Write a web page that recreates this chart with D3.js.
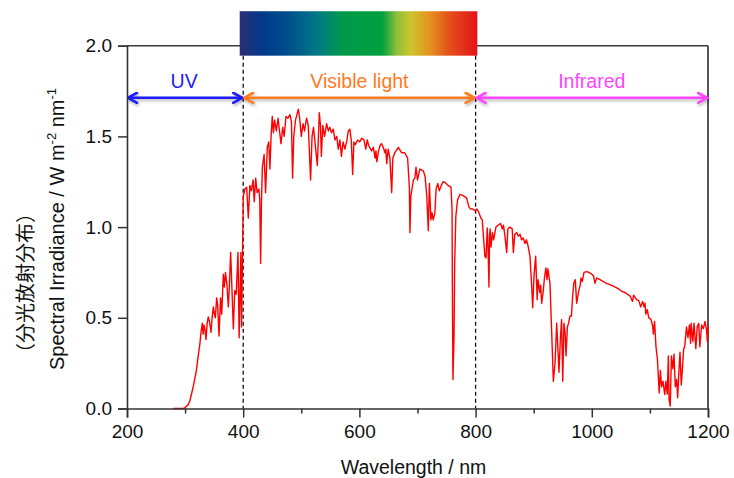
<!DOCTYPE html>
<html>
<head>
<meta charset="utf-8">
<script src="https://cdn.jsdelivr.net/npm/d3@7"></script>
<style>
  html, body { margin: 0; padding: 0; background: #fff; }
  svg { display: block; font-family: "Liberation Sans", Arial, sans-serif; }
</style>
</head>
<body>
<svg id="chart" width="734" height="478"></svg>
<script>
// ---------------- data ----------------
const wavelength = [
  280, 290, 297, 300, 305, 308, 311, 314, 317, 319, 321, 323, 325.6, 327, 329.6, 331, 332.5, 334, 336, 338,
  340, 342, 344.6, 346.5, 348.6, 350.5, 352, 354.4, 356, 358.4, 361, 363, 365.8, 367.5, 369.5, 372, 374.4, 376.5, 378.4, 380.5,
  383, 385.5, 388, 391, 393, 396, 397.2, 399, 400.2, 403, 406, 408.8, 411.5, 414, 417, 419, 421.5, 424, 427, 428.5,
  430, 431.5, 433, 436, 438.5, 441.5, 444, 446, 448, 450, 452, 454, 457, 460, 462.5, 465, 468, 470.5, 473.6, 477,
  480.5, 483, 485, 487, 490, 495, 497.5, 500, 503, 505.5, 509, 512, 516, 518.5, 521, 523.5, 527.6, 531, 533, 534.5,
  537, 540, 543.6, 546.5, 549, 552, 555, 558, 561, 563.7, 566.5, 569, 572, 575, 578, 581, 583.5, 586, 588.4, 590.5,
  593, 597, 600.5, 604, 608, 611, 613.5, 616, 621, 624, 627, 628.5, 630, 633, 635.5, 638, 641, 644, 645.5, 647,
  649.5, 652.5, 655.6, 657.5, 661, 667, 672.5, 678, 683, 686, 687, 688.5, 691, 693, 695.5, 697.4, 700, 704, 710, 713,
  716, 718.6, 720.5, 723, 725, 727, 730, 732, 735, 737.5, 741, 744, 748, 752.5, 757.6, 759.5, 760, 761, 762.8, 764,
  766, 769, 773, 778, 784.6, 788.6, 791.5, 795, 799, 802, 805, 809, 811.5, 813, 816, 818, 820, 821.5, 823, 824,
  825, 826.5, 829, 831, 835, 838.5, 843, 846, 848, 850.5, 853.5, 855.5, 859, 863, 865, 867.5, 870.7, 873.5, 876.5, 879,
  882, 885, 887.5, 890, 893.6, 896.6, 898.3, 900.5, 903.4, 906, 907.5, 910.5, 912, 913.7, 916.5, 918.5, 921, 923, 924.5, 928,
  931, 933.8, 936.7, 939.6, 941.5, 943.5, 946, 948, 950, 952, 954, 955.6, 958, 960, 962.5, 965, 967, 969, 971.5, 974,
  977, 980, 981.4, 983.5, 986.6, 991, 995, 1000, 1003, 1005.5, 1008.4, 1014, 1019.8, 1025, 1031, 1037, 1043, 1048, 1052, 1057,
  1061, 1066, 1070, 1072, 1077, 1081, 1084, 1087.5, 1090, 1091.6, 1093, 1095.5, 1098, 1102, 1105, 1106, 1108, 1110.5, 1113, 1116,
  1118, 1120, 1122.5, 1125.5, 1127.5, 1130, 1131.7, 1133, 1135, 1137, 1139.5, 1141.5, 1143.7, 1146, 1147.8, 1149.5, 1151.8, 1154, 1156, 1158,
  1160, 1163, 1165.5, 1168, 1170, 1171, 1174, 1176, 1179, 1181.5, 1184, 1186, 1189, 1192, 1194.8, 1197.5, 1199, 1200
];
const irradiance = [
  0, 0, 0, 0.005, 0.02, 0.04, 0.08, 0.12, 0.17, 0.2, 0.25, 0.30, 0.36, 0.41, 0.47, 0.41, 0.46, 0.44, 0.38, 0.47,
  0.505, 0.48, 0.42, 0.50, 0.56, 0.52, 0.50, 0.61, 0.57, 0.40, 0.61, 0.52, 0.74, 0.67, 0.75, 0.68, 0.56, 0.70, 0.86, 0.67,
  0.44, 0.65, 0.63, 0.86, 0.39, 0.86, 0.45, 0.90, 1.17, 1.21, 1.22, 1.05, 1.23, 1.20, 1.26, 1.14, 1.27, 1.19, 1.21, 1.15,
  0.80, 1.15, 1.33, 1.40, 1.19, 1.44, 1.47, 1.32, 1.50, 1.61, 1.52, 1.59, 1.53, 1.60, 1.53, 1.46, 1.55, 1.50, 1.61, 1.60,
  1.62, 1.58, 1.27, 1.50, 1.59, 1.65, 1.59, 1.50, 1.57, 1.53, 1.60, 1.56, 1.26, 1.50, 1.55, 1.47, 1.34, 1.63, 1.56, 1.39,
  1.56, 1.50, 1.57, 1.53, 1.55, 1.52, 1.54, 1.48, 1.50, 1.43, 1.48, 1.39, 1.47, 1.43, 1.47, 1.53, 1.54, 1.48, 1.29, 1.47,
  1.455, 1.48, 1.47, 1.49, 1.48, 1.43, 1.48, 1.45, 1.42, 1.44, 1.38, 1.42, 1.36, 1.42, 1.45, 1.46, 1.44, 1.41, 1.43, 1.35,
  1.43, 1.38, 1.19, 1.38, 1.41, 1.44, 1.41, 1.41, 1.38, 1.22, 0.97, 1.17, 1.22, 1.26, 1.27, 1.33, 1.26, 1.32, 1.31, 1.28,
  1.17, 0.98, 1.24, 1.04, 1.08, 1.04, 1.08, 1.21, 1.24, 1.20, 1.23, 1.25, 1.245, 1.23, 1.22, 1.10, 0.69, 0.16, 0.38, 0.80,
  1.06, 1.15, 1.18, 1.175, 1.16, 1.11, 1.10, 1.10, 1.09, 1.10, 1.085, 1.05, 1.04, 0.97, 0.84, 0.83, 0.995, 0.88, 0.67, 0.95,
  0.99, 0.89, 0.97, 0.93, 1.00, 1.01, 1.02, 0.99, 1.01, 0.95, 0.86, 0.99, 1.00, 0.99, 0.86, 0.96, 0.97, 0.95, 0.96, 0.93,
  0.94, 0.91, 0.93, 0.90, 0.84, 0.67, 0.555, 0.73, 0.84, 0.60, 0.71, 0.64, 0.68, 0.58, 0.65, 0.72, 0.775, 0.71, 0.77, 0.69,
  0.417, 0.15, 0.25, 0.47, 0.34, 0.20, 0.39, 0.49, 0.15, 0.47, 0.42, 0.29, 0.45, 0.47, 0.51, 0.51, 0.62, 0.69, 0.71, 0.58,
  0.64, 0.68, 0.72, 0.70, 0.75, 0.755, 0.75, 0.74, 0.73, 0.69, 0.72, 0.71, 0.70, 0.69, 0.683, 0.675, 0.665, 0.655, 0.645, 0.64,
  0.63, 0.62, 0.59, 0.625, 0.60, 0.595, 0.56, 0.59, 0.56, 0.58, 0.52, 0.545, 0.50, 0.49, 0.45, 0.41, 0.48, 0.34, 0.27, 0.086,
  0.21, 0.12, 0.15, 0.077, 0.15, 0.08, 0.29, 0.05, 0.013, 0.29, 0.22, 0.30, 0.12, 0.16, 0.059, 0.18, 0.31, 0.13, 0.22, 0.325,
  0.345, 0.45, 0.39, 0.46, 0.36, 0.47, 0.37, 0.47, 0.33, 0.45, 0.47, 0.34, 0.46, 0.44, 0.48, 0.43, 0.37, 0.46
];

const xTicks = [200, 400, 600, 800, 1000, 1200];
const xMinorTicks = [300, 500, 700, 900, 1100];
const yTicks = [0.0, 0.5, 1.0, 1.5, 2.0];

const bandNames = ["UV", "Visible light", "Infrared"];
const bandStart = [200, 400, 800];
const bandEnd = [400, 800, 1200];
const bandColors = ["#1c1cff", "#ff7a1e", "#ff44ff"];
const boundaryLines = [400, 800];

// visible spectrum bar (nm extent) and its colour stops
const spectrumRange = [394, 803];
const spectrumStops = [0, 0.1, 0.2, 0.33, 0.43, 0.6, 0.66, 0.72, 0.8, 0.88, 1];
const spectrumColors = ["#2b2f76", "#003a8a", "#004d8c", "#007a86", "#00994a", "#00a03e", "#8cbf3a", "#cdc52c", "#e5921e", "#e3521a", "#e41219"];

// ---------------- layout ----------------
const W = 734, H = 478;
const svg = d3.select("#chart");
const x = d3.scaleLinear().domain([200, 1200]).range([127, 708]);
const y = d3.scaleLinear().domain([0, 2]).range([408.5, 45.7]);

const axisColor = "#333";

// defs
const defs = svg.append("defs");
const grad = defs.append("linearGradient").attr("id", "spec").attr("x1", "0%").attr("x2", "100%");
spectrumStops.forEach((o, i) => grad.append("stop").attr("offset", o).attr("stop-color", spectrumColors[i]));
const sh = defs.append("filter").attr("id", "shadow").attr("filterUnits", "userSpaceOnUse")
  .attr("x", 0).attr("y", 0).attr("width", W).attr("height", H);
sh.append("feDropShadow").attr("dx", 1).attr("dy", 2).attr("stdDeviation", 1.4).attr("flood-color", "#000").attr("flood-opacity", 0.3);
bandColors.forEach((c, i) => {
  defs.append("marker").attr("id", "arr" + i)
    .attr("viewBox", "0 0 12 12").attr("refX", 10.5).attr("refY", 6)
    .attr("markerWidth", 12).attr("markerHeight", 12).attr("markerUnits", "userSpaceOnUse")
    .attr("orient", "auto-start-reverse")
    .append("path").attr("d", "M1.5,1 L10.5,6 L1.5,11")
    .attr("fill", "none").attr("stroke", c).attr("stroke-width", 2.6)
    .attr("stroke-linejoin", "miter").attr("stroke-linecap", "round");
});

// frame (top & right)
svg.append("line").attr("x1", x(200)).attr("x2", x(1200)).attr("y1", y(2)).attr("y2", y(2))
  .attr("stroke", "#3a3a3a").attr("stroke-width", 1.6);
svg.append("line").attr("x1", x(1200)).attr("x2", x(1200)).attr("y1", y(2)).attr("y2", y(0))
  .attr("stroke", "#555").attr("stroke-width", 2);

// spectrum bar
svg.append("rect")
  .attr("x", x(spectrumRange[0])).attr("width", x(spectrumRange[1]) - x(spectrumRange[0]))
  .attr("y", y(2.19)).attr("height", y(1.945) - y(2.19))
  .attr("fill", "url(#spec)");

// boundary dashed lines
svg.selectAll(".bound").data(boundaryLines).enter().append("line")
  .attr("x1", d => x(d)).attr("x2", d => x(d))
  .attr("y1", y(1.945)).attr("y2", y(0))
  .attr("stroke", "#111").attr("stroke-width", 1.3).attr("stroke-dasharray", "4,3");

// spectrum line
const pts = wavelength.map((w, i) => [w, irradiance[i]]);
svg.append("path").datum(pts)
  .attr("fill", "none").attr("stroke", "#ff0000").attr("stroke-width", 1.4).attr("stroke-linejoin", "round")
  .attr("d", d3.line().x(d => x(d[0])).y(d => y(d[1])));

// band arrows + labels
bandNames.forEach((name, i) => {
  svg.append("g").attr("filter", "url(#shadow)")
    .append("line")
    .attr("x1", x(bandStart[i]) + 1).attr("x2", x(bandEnd[i]) - 1)
    .attr("y1", y(1.713)).attr("y2", y(1.713))
    .attr("stroke", bandColors[i]).attr("stroke-width", 2.6)
    .attr("marker-start", `url(#arr${i})`).attr("marker-end", `url(#arr${i})`);
  svg.append("text")
    .attr("x", x((bandStart[i] + bandEnd[i]) / 2) + (i === 0 ? -1 : 0))
    .attr("y", y(1.769))
    .attr("text-anchor", "middle").attr("font-size", 19.5).attr("fill", bandColors[i])
    .text(name);
});

// axes
const xAxis = svg.append("g").attr("transform", `translate(0,${y(0)})`)
  .call(d3.axisBottom(x).tickValues(xTicks).tickSize(9).tickPadding(6).tickFormat(d3.format("d")));
const xMinor = svg.append("g").attr("transform", `translate(0,${y(0)})`)
  .call(d3.axisBottom(x).tickValues(xMinorTicks).tickSize(5).tickFormat(""));
xMinor.select(".domain").remove();
const yAxis = svg.append("g").attr("transform", `translate(${x(200)},0)`)
  .call(d3.axisLeft(y).tickValues(yTicks).tickSize(9).tickPadding(6).tickFormat(d3.format(".1f")));

[xAxis, xMinor, yAxis].forEach(g => {
  g.selectAll(".domain").attr("stroke", axisColor).attr("stroke-width", 1.6);
  g.selectAll(".tick line").attr("stroke", axisColor).attr("stroke-width", 1.5);
  g.selectAll("text").attr("fill", "#111").attr("font-size", 19)
    .attr("font-family", "'Liberation Sans', Arial, sans-serif");
});
xAxis.selectAll(".tick text").attr("dy", "0.78em");

// axis titles
svg.append("text")
  .attr("x", (x(200) + x(1200)) / 2 - 4).attr("y", 474)
  .attr("text-anchor", "middle").attr("font-size", 19.5).attr("fill", "#111")
  .text("Wavelength / nm");

const yt = svg.append("text")
  .attr("transform", `translate(64,${229}) rotate(-90)`)
  .attr("text-anchor", "middle").attr("font-size", 20).attr("fill", "#111");
yt.append("tspan").text("Spectral Irradiance / W m");
yt.append("tspan").attr("font-size", 13).attr("dy", -8).text("-2");
yt.append("tspan").attr("dy", 8).text(" nm");
yt.append("tspan").attr("font-size", 13).attr("dy", -8).text("-1");

svg.append("text")
  .attr("transform", `translate(33,${283}) rotate(-90)`)
  .attr("text-anchor", "middle").attr("font-size", 20).attr("fill", "#111")
  .attr("font-family", "'Noto Sans CJK JP', 'Noto Sans CJK SC', sans-serif")
  .text("（分光放射分布）");
</script>
</body>
</html>
